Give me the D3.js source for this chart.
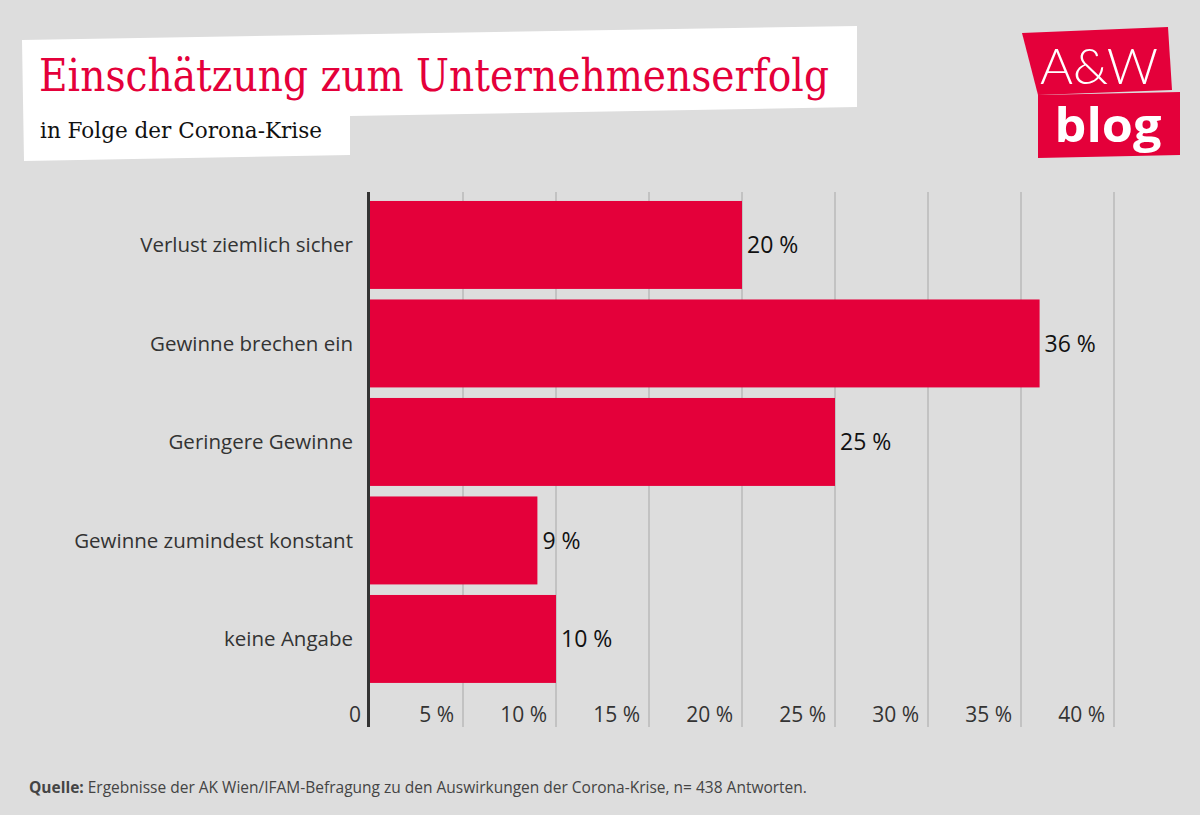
<!DOCTYPE html>
<html><head><meta charset="utf-8">
<script src="https://cdn.jsdelivr.net/npm/d3@7"></script>
<style>body{margin:0;background:#dddddd;} svg{display:block;}</style>
</head><body>
<script>
const categories = ["Verlust ziemlich sicher","Gewinne brechen ein","Geringere Gewinne","Gewinne zumindest konstant","keine Angabe"];
const values = [20, 36, 25, 9, 10];
const valueLabels = ["20 %","36 %","25 %","9 %","10 %"];
const tickValues = [0,5,10,15,20,25,30,35,40];
const tickLabels = ["0","5 %","10 %","15 %","20 %","25 %","30 %","35 %","40 %"];
const title = "Einschätzung zum Unternehmenserfolg";
const subtitle = "in Folge der Corona-Krise";

const W = 1200, H = 815;
const red = "#e4003a";
const svg = d3.select("body").append("svg").attr("width", W).attr("height", H);
svg.append("rect").attr("width", W).attr("height", H).attr("fill", "#dddddd");

// title box
svg.append("polygon").attr("points","22,40 857,26 857,107 350,116 350,155 24,161").attr("fill","#fff");
svg.append("text").attr("x",39).attr("y",91).attr("font-family","'DejaVu Serif', serif")
  .attr("font-size",44).attr("fill",red).attr("textLength",790).attr("lengthAdjust","spacingAndGlyphs").text(title);
svg.append("text").attr("x",40).attr("y",138).attr("font-family","'DejaVu Serif', serif")
  .attr("font-size",23).attr("fill","#111").attr("textLength",282).attr("lengthAdjust","spacingAndGlyphs").text(subtitle);

// logo
svg.append("polygon").attr("points","1022,33 1168,27 1172,90 1038,95").attr("fill",red);
svg.append("polygon").attr("points","1038,95 1180,92 1180,155 1038,158").attr("fill",red);
svg.append("text").attr("x",1099).attr("y",84).attr("text-anchor","middle").attr("font-family","Lato, sans-serif")
  .attr("font-weight",300).attr("font-size",50).attr("fill","#fff").attr("textLength",118).attr("lengthAdjust","spacingAndGlyphs").text("A&W");
svg.append("text").attr("x",1108).attr("y",142).attr("text-anchor","middle").attr("font-family","'Open Sans', sans-serif")
  .attr("font-weight",700).attr("font-size",46).attr("fill","#fff").attr("textLength",107).attr("lengthAdjust","spacingAndGlyphs").text("blog");

// scales
const x = d3.scaleLinear().domain([0,40]).range([370,1114]);
const y = d3.scaleBand().domain(categories).range([195.7,688.2]).paddingInner(0.107).paddingOuter(0.0535);

const font = "'Open Sans', sans-serif";

// gridlines
svg.append("g").selectAll("line").data(tickValues.filter(v=>v>0)).join("line")
  .attr("x1",d=>x(d)).attr("x2",d=>x(d)).attr("y1",192).attr("y2",727)
  .attr("stroke","#b9b9b9").attr("stroke-width",1.5);

// bars
svg.append("g").selectAll("rect").data(categories).join("rect")
  .attr("x",x(0)).attr("y",d=>y(d)).attr("width",(d,i)=>x(values[i])-x(0)).attr("height",y.bandwidth())
  .attr("fill",red);

// value labels
svg.append("g").selectAll("text").data(categories).join("text")
  .attr("x",(d,i)=>x(values[i])+5).attr("y",d=>y(d)+y.bandwidth()/2+8.5)
  .attr("font-family",font).attr("font-size",23).attr("fill","#111")
  .text((d,i)=>valueLabels[i]);

// category labels
svg.append("g").selectAll("text").data(categories).join("text")
  .attr("x",353).attr("y",d=>y(d)+y.bandwidth()/2+7.5).attr("text-anchor","end")
  .attr("font-family",font).attr("font-size",20.5).attr("fill","#333").text(d=>d);

// axis line
svg.append("line").attr("x1",368.5).attr("x2",368.5).attr("y1",192).attr("y2",727)
  .attr("stroke","#333").attr("stroke-width",3);

// tick labels
svg.append("g").selectAll("text").data(tickValues).join("text")
  .attr("x",(d)=>x(d)-9).attr("y",722).attr("text-anchor","end")
  .attr("font-family",font).attr("font-size",21).attr("fill","#333")
  .text((d,i)=>tickLabels[i]);

// footer
const ft = svg.append("text").attr("x",29).attr("y",793).attr("font-family","'Open Sans', sans-serif")
  .attr("font-size",15.5).attr("fill","#444");
ft.append("tspan").attr("font-weight",700).text("Quelle:");
ft.append("tspan").text(" Ergebnisse der AK Wien/IFAM-Befragung zu den Auswirkungen der Corona-Krise, n= 438 Antworten.");
</script>
</body></html>
